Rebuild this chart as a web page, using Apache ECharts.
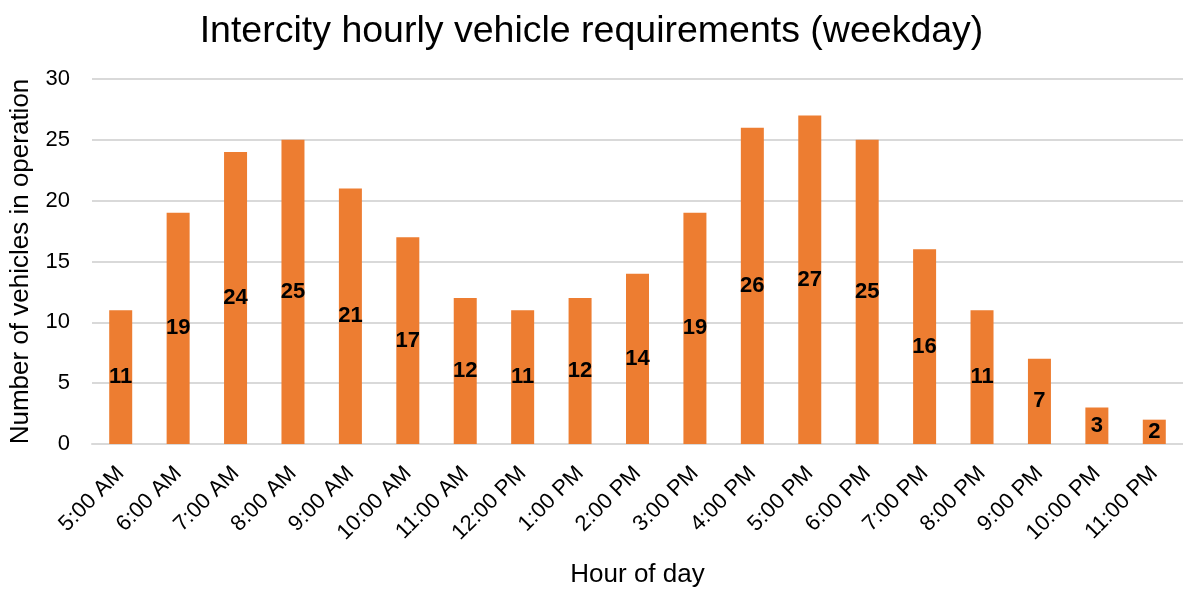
<!DOCTYPE html>
<html>
<head>
<meta charset="utf-8">
<script src="https://cdn.jsdelivr.net/npm/echarts@6/dist/echarts.min.js"></script>
<style>
  html, body { margin: 0; padding: 0; background: #fff; }
  #chart { width: 1183px; height: 593px; }
</style>
</head>
<body>
<div id="chart"></div>
<script>
// hours on the x axis
const hours = ['5:00 AM', '6:00 AM', '7:00 AM', '8:00 AM', '9:00 AM', '10:00 AM', '11:00 AM',
  '12:00 PM', '1:00 PM', '2:00 PM', '3:00 PM', '4:00 PM', '5:00 PM', '6:00 PM',
  '7:00 PM', '8:00 PM', '9:00 PM', '10:00 PM', '11:00 PM'];
// vehicles in operation per hour
const vehicles = [11, 19, 24, 25, 21, 17, 12, 11, 12, 14, 19, 26, 27, 25, 16, 11, 7, 3, 2];
const yTicks = [0, 5, 10, 15, 20, 25, 30];

const font = 'Liberation Sans, Arial, sans-serif';
const chart = echarts.init(document.getElementById('chart'));

chart.setOption({
  animation: false,
  textStyle: { fontFamily: font },
  title: {
    text: 'Intercity hourly vehicle requirements (weekday)',
    left: 'center',
    top: 8,
    textStyle: { fontFamily: font, fontSize: 37.5, fontWeight: 'normal', color: '#000' }
  },
  grid: { left: 91, right: 0, top: 79, bottom: 148 },
  xAxis: {
    type: 'category',
    data: hours,
    name: 'Hour of day',
    nameLocation: 'middle',
    nameGap: 118,
    nameTextStyle: { fontFamily: font, fontSize: 26, color: '#000' },
    axisLine: { lineStyle: { color: '#d9d9d9', width: 2 } },
    axisTick: { show: false },
    axisLabel: { interval: 0, rotate: 45, fontFamily: font, fontSize: 22, color: '#000', margin: 26 }
  },
  yAxis: {
    type: 'value',
    min: yTicks[0],
    max: yTicks[yTicks.length - 1],
    interval: 5,
    name: 'Number of vehicles in operation',
    nameLocation: 'middle',
    nameGap: 58,
    nameTextStyle: { fontFamily: font, fontSize: 26, color: '#000' },
    axisLine: { show: false },
    axisTick: { show: false },
    axisLabel: { fontFamily: font, fontSize: 22, color: '#000', margin: 22 },
    splitLine: { lineStyle: { color: '#d9d9d9', width: 2 } }
  },
  series: [{
    type: 'bar',
    data: vehicles,
    barWidth: 23,
    itemStyle: { color: '#ED7D31' },
    label: {
      show: true,
      position: 'inside',
      fontFamily: font,
      fontSize: 22,
      fontWeight: 'bold',
      color: '#000'
    }
  }]
});
</script>
</body>
</html>
